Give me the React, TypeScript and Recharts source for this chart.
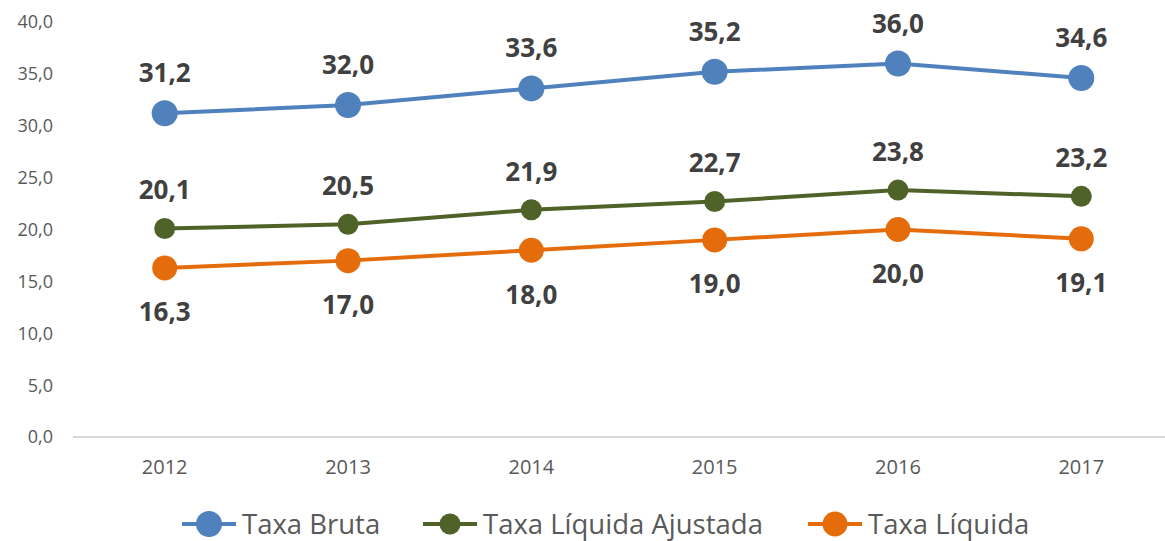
import React from 'react';
import { LineChart, Line, XAxis, YAxis, Legend, LabelList } from 'recharts';

const years = ['2012', '2013', '2014', '2015', '2016', '2017'];
const taxaBruta = [31.2, 32.0, 33.6, 35.2, 36.0, 34.6];
const taxaLiquidaAjustada = [20.1, 20.5, 21.9, 22.7, 23.8, 23.2];
const taxaLiquida = [16.3, 17.0, 18.0, 19.0, 20.0, 19.1];
const yTicks = [0, 5, 10, 15, 20, 25, 30, 35, 40];

const series = [
  { key: 'bruta', name: 'Taxa Bruta', color: '#4f81bd', r: 13, pos: 'top', offset: 31 },
  { key: 'ajustada', name: 'Taxa Líquida Ajustada', color: '#4f6228', r: 10.5, pos: 'top', offset: 29 },
  { key: 'liquida', name: 'Taxa Líquida', color: '#e46c0a', r: 12.5, pos: 'bottom', offset: 35 },
];

const data = years.map((year, i) => ({
  year,
  bruta: taxaBruta[i],
  ajustada: taxaLiquidaAjustada[i],
  liquida: taxaLiquida[i],
}));

const fmt = (v: any) => Number(v).toFixed(1).replace('.', ',');

const FONT = '"Open Sans", sans-serif';

// legend item widths so each marker lands where the original has it
const legendWidths = [241, 385, 300];

const LegendContent = () => (
  <div style={{ height: 40, boxSizing: 'border-box', paddingTop: 5, paddingLeft: 182, display: 'flex', alignItems: 'center' }}>
    {series.map((s, i) => (
      <div key={s.key} style={{ width: legendWidths[i], display: 'flex', alignItems: 'center' }}>
        <svg width={54} height={28} style={{ display: 'block' }}>
          <line x1={0} y1={14} x2={54} y2={14} stroke={s.color} strokeWidth={4} />
          <circle cx={27} cy={14} r={s.r} fill={s.color} />
        </svg>
        <span style={{ marginLeft: 6, fontFamily: FONT, fontSize: 27.5, color: '#595959', whiteSpace: 'nowrap' }}>{s.name}</span>
      </div>
    ))}
  </div>
);

export default function App() {
  return (
    <div style={{ position: 'absolute', left: 0, top: 0, width: 1165, height: 541, overflow: 'hidden', background: '#fff' }}>
      <LineChart width={1175} height={541} data={data} margin={{ top: 22, right: 2, bottom: 0, left: 0 }}>
        <XAxis
          dataKey="year"
          axisLine={{ stroke: '#d9d9d9', strokeWidth: 2 }}
          tickLine={false}
          tickMargin={17}
          height={64}
          padding={{ left: 91.7, right: 91.7 }}
          tick={{ fill: '#595959', fontSize: 20, fontFamily: FONT }}
        />
        <YAxis
          domain={[0, 40]}
          ticks={yTicks}
          width={73}
          axisLine={false}
          tickLine={false}
          tickMargin={14}
          tickFormatter={fmt}
          tick={{ fill: '#595959', fontSize: 18, fontFamily: FONT }}
        />
        <Legend verticalAlign="bottom" content={<LegendContent />} wrapperStyle={{ left: 0, width: 1175 }} />
        {series.map((s) => (
          <Line
            key={s.key}
            dataKey={s.key}
            name={s.name}
            stroke={s.color}
            strokeWidth={4}
            dot={{ r: s.r, fill: s.color, stroke: s.color, strokeWidth: 0 }}
            activeDot={false}
            isAnimationActive={false}
          >
            <LabelList
              dataKey={s.key}
              position={s.pos as any}
              offset={s.offset}
              formatter={fmt}
              style={{ fill: '#404040', fontSize: 26, fontWeight: 700, fontFamily: FONT }}
            />
          </Line>
        ))}
      </LineChart>
    </div>
  );
}
